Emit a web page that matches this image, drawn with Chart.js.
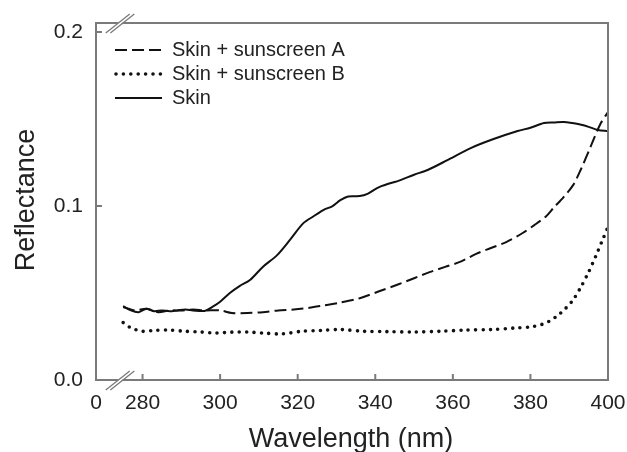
<!DOCTYPE html>
<html>
<head>
<meta charset="utf-8">
<script src="https://cdn.jsdelivr.net/npm/chart.js@4.4.0/dist/chart.umd.min.js"></script>
<style>
  body { margin: 0; background: #fff; }
</style>
</head>
<body>
<canvas id="myChart" width="627" height="452"></canvas>
<script>
/* data */
const skinNm = [275, 277, 279, 281, 283, 285, 287, 289, 291, 293, 296, 298, 300, 302.5, 305, 307.7, 311, 314.7, 318, 321.4, 324, 326.6, 329, 331, 333, 336, 338, 341, 346.5, 350, 353.5, 358.6, 364.6, 370.5, 376.7, 380, 383.5, 386, 388.6, 392.3, 395, 397.4, 400];
const skinR  = [0.0425, 0.040, 0.039, 0.041, 0.0395, 0.040, 0.0395, 0.040, 0.0405, 0.040, 0.0397, 0.042, 0.045, 0.050, 0.054, 0.0575, 0.065, 0.0718, 0.0805, 0.090, 0.094, 0.0977, 0.100, 0.1034, 0.1055, 0.1057, 0.107, 0.1109, 0.1149, 0.118, 0.1207, 0.1264, 0.1333, 0.1385, 0.1431, 0.145, 0.1477, 0.148, 0.1483, 0.1471, 0.1455, 0.1437, 0.1431];

const aNm = [275, 278, 281, 284, 287, 290, 293, 296, 300, 303, 307, 311, 315, 319, 323, 327, 331, 336, 341, 346, 350, 354, 358, 362, 366, 370, 374, 378, 381, 384, 386, 388.5, 391, 393, 395.5, 398, 400];
const aR  = [0.042, 0.040, 0.041, 0.039, 0.040, 0.040, 0.0405, 0.040, 0.040, 0.0385, 0.0385, 0.039, 0.040, 0.0405, 0.0415, 0.043, 0.0445, 0.047, 0.051, 0.055, 0.0585, 0.062, 0.065, 0.068, 0.0725, 0.076, 0.0795, 0.0845, 0.089, 0.094, 0.099, 0.105, 0.112, 0.121, 0.134, 0.147, 0.154];

const bNm = [275, 277, 280, 283, 287, 291, 295, 299, 303, 307, 311, 316, 321, 326, 331, 337, 343, 350, 357, 363, 370, 376, 380, 383, 385, 387, 389, 391, 393, 395, 397, 398.5, 400];
const bR  = [0.033, 0.030, 0.028, 0.0285, 0.0287, 0.028, 0.0276, 0.027, 0.0275, 0.0276, 0.027, 0.0265, 0.028, 0.0285, 0.029, 0.028, 0.0278, 0.0276, 0.028, 0.0287, 0.029, 0.0299, 0.0305, 0.032, 0.034, 0.037, 0.041, 0.046, 0.0534, 0.062, 0.072, 0.080, 0.088];

const xTicks = [268, 280, 300, 320, 340, 360, 380, 400];   // 268 stands for the "0" before the break
const yTicks = [0, 0.1, 0.2];
const seriesLabels = ['Skin + sunscreen A', 'Skin + sunscreen B', 'Skin'];

const FONT = '"Liberation Sans", Arial, sans-serif';
const ink = '#111';
const frame = '#7a7a7a';

function pts(xs, ys) {
  return xs.map((x, i) => ({ x: x, y: ys[i] }));
}

const dashA = [12, 5];
const dotB = [0, 7.4];

/* frame, inside ticks, axis breaks, legend, titles */
const decor = {
  id: 'decor',
  afterDraw(chart) {
    const c = chart.ctx;
    const a = chart.chartArea;
    const xs = chart.scales.x, ys = chart.scales.y;
    c.save();
    c.strokeStyle = frame;
    c.lineWidth = 2;
    c.strokeRect(a.left, a.top, a.right - a.left, a.bottom - a.top);

    // ticks pointing in
    c.beginPath();
    xTicks.slice(1, -1).forEach(v => {
      const px = xs.getPixelForValue(v);
      c.moveTo(px, a.bottom);
      c.lineTo(px, a.bottom - 6);
    });
    yTicks.slice(1).forEach(v => {
      const py = ys.getPixelForValue(v);
      c.moveTo(a.left, py);
      c.lineTo(a.left + 6, py);
    });
    c.stroke();

    // axis breaks
    const bx = xs.getPixelForValue(274.2);
    [a.top, a.bottom].forEach(yy => {
      c.fillStyle = '#fff';
      c.beginPath();
      c.moveTo(bx - 2 - 6, yy + 5);
      c.lineTo(bx + 2 - 6, yy + 5);
      c.lineTo(bx + 2 + 6, yy - 5);
      c.lineTo(bx - 2 + 6, yy - 5);
      c.closePath();
      c.fill();
      c.strokeStyle = frame;
      c.lineWidth = 1.3;
      c.beginPath();
      [-2.3, 2.3].forEach(d => {
        c.moveTo(bx + d - 12, yy + 10);
        c.lineTo(bx + d + 12, yy - 9);
      });
      c.stroke();
    });

    // legend
    const rows = [50, 74, 98];
    const styles = [
      { dash: dashA, w: 2, cap: 'butt' },
      { dash: dotB, w: 3.6, cap: 'round' },
      { dash: [], w: 2, cap: 'butt' }
    ];
    c.font = '20px ' + FONT;
    c.textBaseline = 'middle';
    c.textAlign = 'left';
    rows.forEach((ry, i) => {
      const s = styles[i];
      c.strokeStyle = ink;
      c.lineWidth = s.w;
      c.lineCap = s.cap;
      c.setLineDash(s.dash);
      c.beginPath();
      c.moveTo(i === 1 ? 116 : 115, ry);
      c.lineTo(162, ry);
      c.stroke();
      c.setLineDash([]);
      c.lineCap = 'butt';
      c.fillStyle = '#222';
      c.fillText(seriesLabels[i], 172, ry);
    });

    // axis titles
    c.fillStyle = '#222';
    c.font = '27px ' + FONT;
    c.textAlign = 'center';
    c.textBaseline = 'alphabetic';
    c.fillText('Wavelength (nm)', 351, 447);
    c.translate(34, 200);
    c.rotate(-Math.PI / 2);
    c.fillText('Reflectance', 0, 0);
    c.restore();
  }
};

const ctx = document.getElementById('myChart');
var config = {
  type: 'line',
  data: {
    datasets: [
      {
        label: seriesLabels[0],
        data: pts(aNm, aR),
        borderColor: ink,
        borderWidth: 2,
        borderDash: dashA,
        pointRadius: 0,
        tension: 0.3
      },
      {
        label: seriesLabels[1],
        data: pts(bNm, bR),
        borderColor: ink,
        borderWidth: 3.6,
        borderDash: dotB,
        borderCapStyle: 'round',
        pointRadius: 0,
        tension: 0.3
      },
      {
        label: seriesLabels[2],
        data: pts(skinNm, skinR),
        borderColor: ink,
        borderWidth: 2,
        pointRadius: 0,
        tension: 0.3
      }
    ]
  },
  options: {
    responsive: false,
    animation: false,
    layout: { padding: { left: 0, right: 19, top: 23, bottom: 0 } },
    plugins: {
      legend: { display: false },
      tooltip: { enabled: false }
    },
    scales: {
      x: {
        type: 'linear',
        min: 268,
        max: 400,
        afterBuildTicks: s => { s.ticks = xTicks.map(v => ({ value: v })); },
        afterFit: s => { s.height = 72; s.paddingLeft = 0; s.paddingRight = 0; },
        grid: { drawOnChartArea: false, drawTicks: false },
        border: { display: false },
        ticks: {
          padding: 11,
          color: '#222',
          font: { family: FONT, size: 21 },
          maxRotation: 0,
          autoSkip: false,
          callback: v => v === 268 ? '0' : String(v)
        }
      },
      y: {
        min: 0,
        max: 0.2052,
        afterBuildTicks: s => { s.ticks = yTicks.map(v => ({ value: v })); },
        afterFit: s => { s.width = 96; s.paddingTop = 0; s.paddingBottom = 0; },
        grid: { drawOnChartArea: false, drawTicks: false },
        border: { display: false },
        ticks: {
          padding: 13,
          color: '#222',
          font: { family: FONT, size: 21 },
          callback: v => v.toFixed(1)
        }
      }
    }
  },
  plugins: [decor]
};

var myChart = new Chart(ctx, config);
</script>
</body>
</html>
